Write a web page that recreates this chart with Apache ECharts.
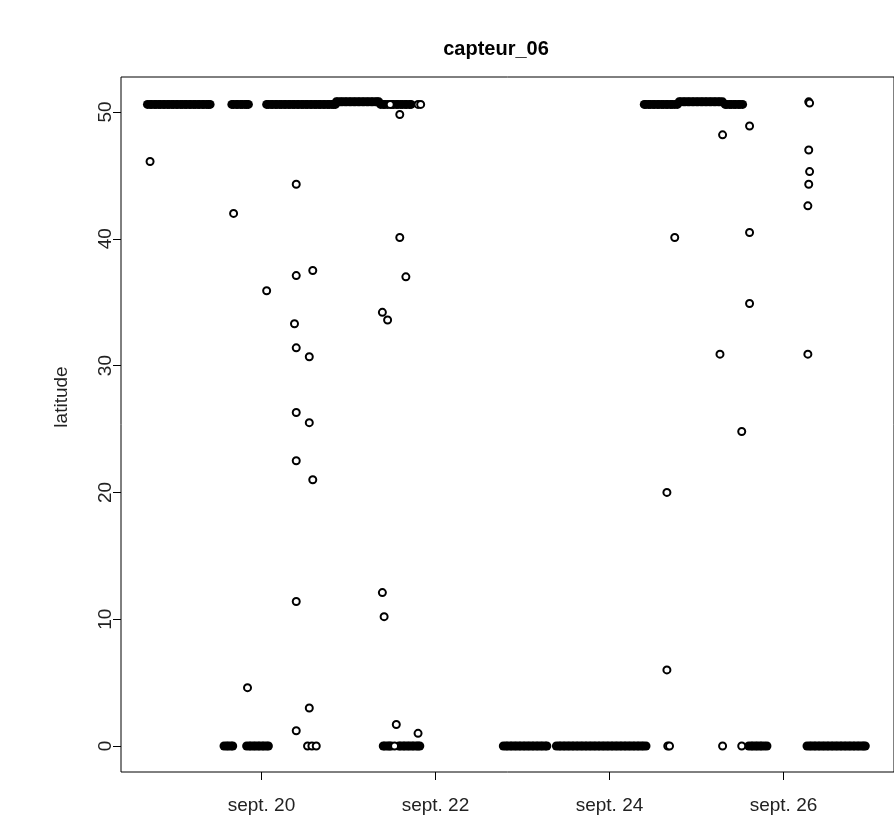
<!DOCTYPE html>
<html>
<head>
<meta charset="utf-8">
<script src="https://cdn.jsdelivr.net/npm/echarts@6/dist/echarts.min.js"></script>
<style>html,body{margin:0;padding:0;background:#fff;}#c{width:894px;height:834px;}</style>
</head>
<body>
<div id="c"></div>
<script>
// x values are days of September (fractional), y = latitude
const chartTitle = 'capteur_06';
const yName = 'latitude';
const xTickValues = [20, 22, 24, 26];
const xTickLabels = ['sept. 20', 'sept. 22', 'sept. 24', 'sept. 26'];
const yTickValues = [0, 10, 20, 30, 40, 50];

// dense runs of readings at ~50.6
const runLowX = [18.69,18.72,18.74,18.77,18.79,18.82,18.84,18.87,18.89,18.92,18.94,18.97,18.99,19.02,19.04,19.07,19.09,19.12,19.14,19.17,19.19,19.22,19.24,19.27,19.29,19.32,19.34,19.37,19.39,19.41,
  19.66,19.68,19.71,19.73,19.76,19.78,19.81,19.83,19.85,
  20.06,20.08,20.11,20.13,20.16,20.18,20.21,20.23,20.26,20.28,20.31,20.33,20.36,20.38,20.41,20.43,20.46,20.48,20.51,20.53,20.56,20.58,20.61,20.63,20.66,20.68,20.71,20.73,20.76,20.78,20.81,20.83,20.85,
  21.37,21.40,21.42,21.45,21.50,21.52,21.55,21.57,21.60,21.62,21.65,21.67,21.70,21.72,
  24.40,24.42,24.45,24.47,24.50,24.52,24.55,24.57,24.60,24.62,24.65,24.67,24.70,24.72,24.75,24.78,
  25.33,25.35,25.38,25.40,25.43,25.45,25.48,25.50,25.53];
const runLowY = 50.6;
// dense runs of readings at ~50.8
const runHighX = [20.86,20.88,20.91,20.93,20.96,20.98,21.01,21.03,21.06,21.08,21.11,21.13,21.16,21.18,21.21,21.23,21.26,21.28,21.31,21.33,21.35,
  24.80,24.82,24.85,24.87,24.90,24.92,24.95,24.97,25.00,25.02,25.05,25.07,25.10,25.12,25.15,25.17,25.20,25.22,25.25,25.27,25.30];
const runHighY = 50.8;
// dense runs of readings at 0
const runZeroX = [19.57,19.60,19.62,19.65,19.67,
  19.83,19.86,19.88,19.91,19.93,19.96,19.98,20.01,20.03,20.06,20.08,
  21.40,21.42,21.45,21.47,21.49,
  21.58,21.60,21.63,21.65,21.68,21.70,21.73,21.75,21.78,21.80,21.82,
  22.78,22.81,22.83,22.86,22.88,22.91,22.93,22.96,22.98,23.01,23.03,23.06,23.08,23.11,23.13,23.16,23.18,23.21,23.23,23.26,23.28,
  23.39,23.42,23.44,23.47,23.49,23.52,23.54,23.57,23.59,23.62,23.64,23.67,23.69,23.72,23.74,23.77,23.79,23.82,23.84,23.87,23.89,23.92,23.94,23.97,23.99,24.02,24.04,24.07,24.09,24.12,24.14,24.17,24.19,24.22,24.24,24.27,24.29,24.32,24.34,24.37,24.39,24.42,
  25.60,25.63,25.65,25.68,25.70,25.73,25.75,25.78,25.81,
  26.27,26.30,26.32,26.35,26.37,26.40,26.42,26.45,26.47,26.50,26.52,26.55,26.57,26.60,26.62,26.65,26.67,26.70,26.72,26.75,26.77,26.80,26.82,26.85,26.87,26.90,26.92,26.94];
const runZeroY = 0;
// isolated readings [day, latitude]
const isolated = [[18.72,46.1],[19.68,42.0],[19.84,4.6],[20.06,35.9],
  [20.40,44.3],[20.40,37.1],[20.38,33.3],[20.40,31.4],[20.40,26.3],[20.40,22.5],[20.40,11.4],[20.40,1.2],
  [20.55,30.7],[20.55,25.5],[20.55,3.0],[20.59,37.5],[20.59,21.0],
  [20.53,0],[20.58,0],[20.63,0],
  [21.48,50.6],[21.80,50.6],[21.83,50.6],
  [21.59,49.8],[21.59,40.1],[21.66,37.0],[21.45,33.6],[21.39,34.2],[21.39,12.1],[21.41,10.2],[21.55,1.7],[21.80,1.0],[21.53,0],
  [24.66,20.0],[24.66,6.0],[24.67,0],[24.69,0],[24.75,40.1],
  [25.30,48.2],[25.27,30.9],[25.30,0],[25.52,0],[25.52,24.8],[25.61,48.9],[25.61,40.5],[25.61,34.9],
  [26.29,50.8],[26.30,50.7],[26.29,47.0],[26.30,45.3],[26.29,44.3],[26.28,42.6],[26.28,30.9]];

const FONT = 'Liberation Sans, Arial, sans-serif';
const denseData = runLowX.map(x => [x, runLowY])
  .concat(runHighX.map(x => [x, runHighY]))
  .concat(runZeroX.map(x => [x, runZeroY]));

const chart = echarts.init(document.getElementById('c'), null, {renderer: 'canvas'});
chart.setOption({
  animation: false,
  backgroundColor: '#fff',
  title: {
    text: chartTitle, left: 491, top: 34, textAlign: 'center',
    textStyle: {fontFamily: FONT, fontWeight: 'bold', fontSize: 20, color: '#000'}
  },
  grid: {left: 121, top: 77, width: 782, height: 695, show: true, borderColor: '#000', borderWidth: 1, backgroundColor: 'transparent'},
  xAxis: {
    type: 'value', min: 18.386, max: 27.27,
    splitLine: {show: false},
    axisLine: {show: false, onZero: false},
    axisTick: {show: true, inside: false, length: 8, lineStyle: {color: '#000', width: 1}, customValues: xTickValues},
    axisLabel: {
      customValues: xTickValues, margin: 24, fontFamily: FONT, fontSize: 19, color: '#222',
      formatter: v => xTickLabels[xTickValues.indexOf(v)] || ''
    }
  },
  yAxis: {
    type: 'value', min: -2.05, max: 52.76,
    splitLine: {show: false},
    axisLine: {show: false, onZero: false},
    axisTick: {show: true, inside: false, length: 8, lineStyle: {color: '#000', width: 1}, customValues: yTickValues},
    axisLabel: {customValues: yTickValues, rotate: 90, margin: 6, fontFamily: FONT, fontSize: 19, color: '#222'}
  },
  graphic: [{
    type: 'text', x: 62, y: 397, rotation: Math.PI / 2,
    style: {text: yName, font: '19px ' + FONT, fill: '#222', textAlign: 'center', textVerticalAlign: 'middle'}
  }],
  series: [
    {type: 'scatter', data: denseData, symbol: 'circle', symbolSize: 9,
     itemStyle: {color: '#000', opacity: 1}, silent: true},
    {type: 'scatter', data: isolated, symbol: 'emptyCircle', symbolSize: 7,
     itemStyle: {color: '#000', borderColor: '#000', borderWidth: 1.5, opacity: 1}, silent: true}
  ]
});
</script>
</body>
</html>
